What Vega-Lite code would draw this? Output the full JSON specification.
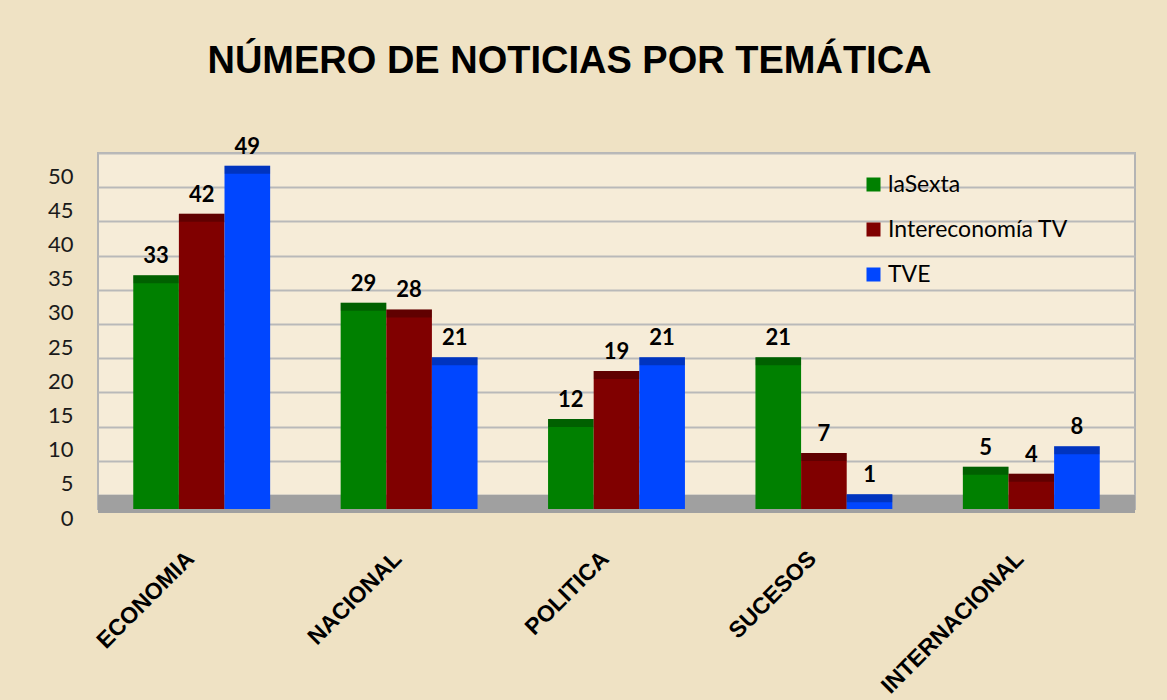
{
  "$schema": "https://vega.github.io/schema/vega-lite/v6.json",
  "width": 1037,
  "height": 356,
  "autosize": {"type": "none"},
  "padding": {"left": 98, "top": 153, "right": 32, "bottom": 191},
  "background": "#EFE2C4",
  "title": {
    "text": "NÚMERO DE NOTICIAS POR TEMÁTICA",
    "font": "Liberation Sans",
    "fontSize": 38,
    "fontWeight": "bold",
    "color": "#000000",
    "anchor": "middle",
    "frame": "group",
    "dx": -47,
    "offset": 55
  },
  "data": {
    "values": [
      {"cat": "ECONOMIA", "series": "laSexta", "value": 33},
      {"cat": "ECONOMIA", "series": "Intereconomía TV", "value": 42},
      {"cat": "ECONOMIA", "series": "TVE", "value": 49},
      {"cat": "NACIONAL", "series": "laSexta", "value": 29},
      {"cat": "NACIONAL", "series": "Intereconomía TV", "value": 28},
      {"cat": "NACIONAL", "series": "TVE", "value": 21},
      {"cat": "POLITICA", "series": "laSexta", "value": 12},
      {"cat": "POLITICA", "series": "Intereconomía TV", "value": 19},
      {"cat": "POLITICA", "series": "TVE", "value": 21},
      {"cat": "SUCESOS", "series": "laSexta", "value": 21},
      {"cat": "SUCESOS", "series": "Intereconomía TV", "value": 7},
      {"cat": "SUCESOS", "series": "TVE", "value": 1},
      {"cat": "INTERNACIONAL", "series": "laSexta", "value": 5},
      {"cat": "INTERNACIONAL", "series": "Intereconomía TV", "value": 4},
      {"cat": "INTERNACIONAL", "series": "TVE", "value": 8}
    ]
  },
  "layer": [
    {
      "mark": {"type": "rect", "color": "#A0A0A0", "yOffset": 4, "y2Offset": -14, "clip": false},
      "encoding": {
        "x": {"value": 0},
        "x2": {"value": "width"},
        "y": {"value": "height"},
        "y2": {"value": "height"}
      }
    },
    {
      "encoding": {
        "x": {
          "field": "cat", "type": "nominal",
          "sort": ["ECONOMIA", "NACIONAL", "POLITICA", "SUCESOS", "INTERNACIONAL"],
          "scale": {"paddingInner": 0.34, "paddingOuter": 0.17},
          "axis": {
            "title": null, "labelAngle": -45, "labelFont": "Liberation Sans", "labelFontWeight": "bold",
            "labelFontSize": 23, "labelColor": "#000000", "labelPadding": 38, "labelOffset": -19, "labelLimit": 400,
            "ticks": false, "domain": false, "grid": false
          }
        },
        "xOffset": {
          "field": "series", "type": "nominal",
          "sort": ["laSexta", "Intereconomía TV", "TVE"],
          "scale": {"paddingInner": 0, "paddingOuter": 0}
        },
        "y": {
          "field": "value", "type": "quantitative",
          "scale": {"domain": [0, 52.05], "nice": false, "zero": true},
          "axis": {
            "title": null, "values": [0, 5, 10, 15, 20, 25, 30, 35, 40, 45, 50], "tickCount": 11, "labelOverlap": false,
            "tickOffset": -14, "labelOffset": 23, "ticks": false, "domain": false,
            "grid": true, "gridColor": "#B9B9B9", "gridWidth": 2,
            "labelFont": "Lato", "labelFontSize": 22, "labelColor": "#1A1A1A", "labelPadding": 25
          }
        }
      },
      "layer": [
        {
          "mark": {"type": "bar", "yOffset": -8},
          "encoding": {
            "y2": {"datum": 0},
            "color": {
              "field": "series", "type": "nominal",
              "sort": ["laSexta", "Intereconomía TV", "TVE"],
              "scale": {"domain": ["laSexta", "Intereconomía TV", "TVE"], "range": ["#008000", "#800000", "#0046FF"]},
              "legend": {
                "title": null, "orient": "none", "legendX": 764, "legendY": 20,
                "symbolType": "square", "symbolSize": 196, "symbolStrokeWidth": 0,
                "labelFont": "Lato", "labelFontSize": 23, "labelColor": "#000000", "labelLimit": 0,
                "labelOffset": 3, "rowPadding": 21, "padding": 0
              }
            }
          }
        },
        {
          "mark": {"type": "bar", "color": "#000000", "opacity": 0.25, "yOffset": -8},
          "encoding": {
            "y2": {"field": "value"}
          }
        },
        {
          "mark": {"type": "text", "dy": -27, "font": "Lato", "fontSize": 22, "fontWeight": "bold", "color": "#000000", "baseline": "middle"},
          "encoding": {
            "text": {"field": "value", "type": "quantitative"}
          }
        }
      ]
    }
  ],
  "config": {
    "view": {"stroke": "#B4B4B4", "strokeWidth": 2, "fill": "#F6ECD8"}
  }
}
